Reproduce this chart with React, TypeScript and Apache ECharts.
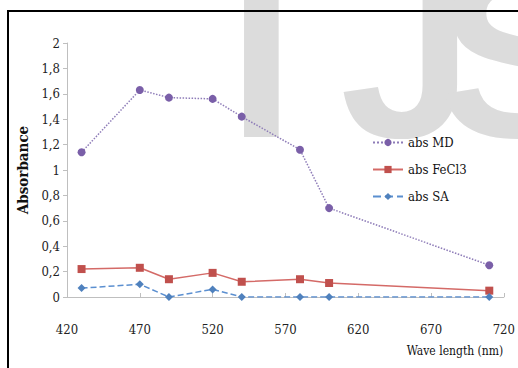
import React, { useEffect, useRef } from "react";
import * as echarts from "echarts";

const wavelengths = [430, 470, 490, 520, 540, 580, 600, 710];
const absMD = [1.14, 1.63, 1.57, 1.56, 1.42, 1.16, 0.7, 0.25];
const absFeCl3 = [0.22, 0.23, 0.14, 0.19, 0.12, 0.14, 0.11, 0.05];
const absSA = [0.07, 0.1, 0.0, 0.06, 0.0, 0.0, 0.0, 0.0];
const seriesNames = ["abs MD", "abs FeCl3", "abs SA"];

const serif = "'DejaVu Serif Condensed', 'DejaVu Serif', serif";

export default function App() {
  const ref = useRef<HTMLDivElement>(null);
  useEffect(() => {
    if (!ref.current) return;
    const chart = echarts.init(ref.current, null, { renderer: "svg" });
    const pairs = (ys: number[]) => wavelengths.map((x, i) => [x, ys[i]]);
    const wm = { fill: "#dcdcdc", font: "bold 240px 'Liberation Sans'", verticalAlign: "middle" };
    chart.setOption({
      animation: false,
      backgroundColor: "#ffffff",
      grid: { left: 67, top: 43, right: 13, bottom: 71 },
      legend: {
        orient: "vertical",
        left: 372,
        top: 136,
        padding: 0,
        itemWidth: 30,
        itemHeight: 9,
        itemGap: 14,
        data: seriesNames,
        textStyle: { fontFamily: serif, fontSize: 13, color: "#111" },
      },
      xAxis: {
        type: "value",
        min: 420,
        max: 720,
        interval: 50,
        axisLine: { lineStyle: { color: "#bfbfbf" } },
        axisTick: { show: true, inside: true, length: 4, lineStyle: { color: "#bfbfbf" } },
        splitLine: { show: false },
        axisLabel: { margin: 26, fontFamily: serif, fontSize: 13, color: "#222" },
      },
      yAxis: {
        type: "value",
        min: 0,
        max: 2,
        interval: 0.2,
        name: "Absorbance",
        nameLocation: "middle",
        nameGap: 37,
        nameTextStyle: { fontFamily: serif, fontWeight: "bold", fontSize: 15, color: "#111" },
        axisLine: { show: true, lineStyle: { color: "#bfbfbf" } },
        axisTick: { show: true, length: 4, lineStyle: { color: "#bfbfbf" } },
        splitLine: { show: false },
        axisLabel: {
          margin: 7,
          fontFamily: serif,
          fontSize: 13,
          color: "#222",
          formatter: (v: number) => String(Math.round(v * 10) / 10).replace(".", ","),
        },
      },
      series: [
        {
          name: seriesNames[0],
          type: "line",
          data: pairs(absMD),
          symbol: "circle",
          symbolSize: 8,
          itemStyle: { color: "#7a5fa8" },
          lineStyle: { color: "#8e7cb8", width: 1.5, type: "dotted" },
          z: 5,
        },
        {
          name: seriesNames[1],
          type: "line",
          data: pairs(absFeCl3),
          symbol: "rect",
          symbolSize: 8,
          itemStyle: { color: "#c0504d" },
          lineStyle: { color: "#d46a67", width: 1.5 },
          z: 5,
        },
        {
          name: seriesNames[2],
          type: "line",
          data: pairs(absSA),
          symbol: "diamond",
          symbolSize: 8,
          itemStyle: { color: "#4f81bd" },
          lineStyle: { color: "#5b8fd0", width: 1.5, type: "dashed" },
          z: 5,
        },
      ],
      graphic: [
        { type: "text", z: -10, x: 228, y: 54, style: { ...wm, text: "I" } },
        { type: "text", z: -10, x: 340, y: 54, style: { ...wm, text: "J" } },
        { type: "text", z: -10, x: 438, y: 54, style: { ...wm, text: "S" } },
        {
          type: "text",
          x: 455,
          y: 351,
          style: { text: "Wave length (nm)", fontFamily: serif, fontSize: 12, fill: "#111", align: "center", verticalAlign: "middle" },
        },
        {
          type: "rect",
          shape: { x: 8, y: 11, width: 530, height: 380 },
          style: { fill: "none", stroke: "#000", lineWidth: 2 },
          z: 10,
        },
      ],
    });
    return () => chart.dispose();
  }, []);
  return <div ref={ref} style={{ position: "fixed", left: 0, top: 0, width: 518, height: 368 }} />;
}
